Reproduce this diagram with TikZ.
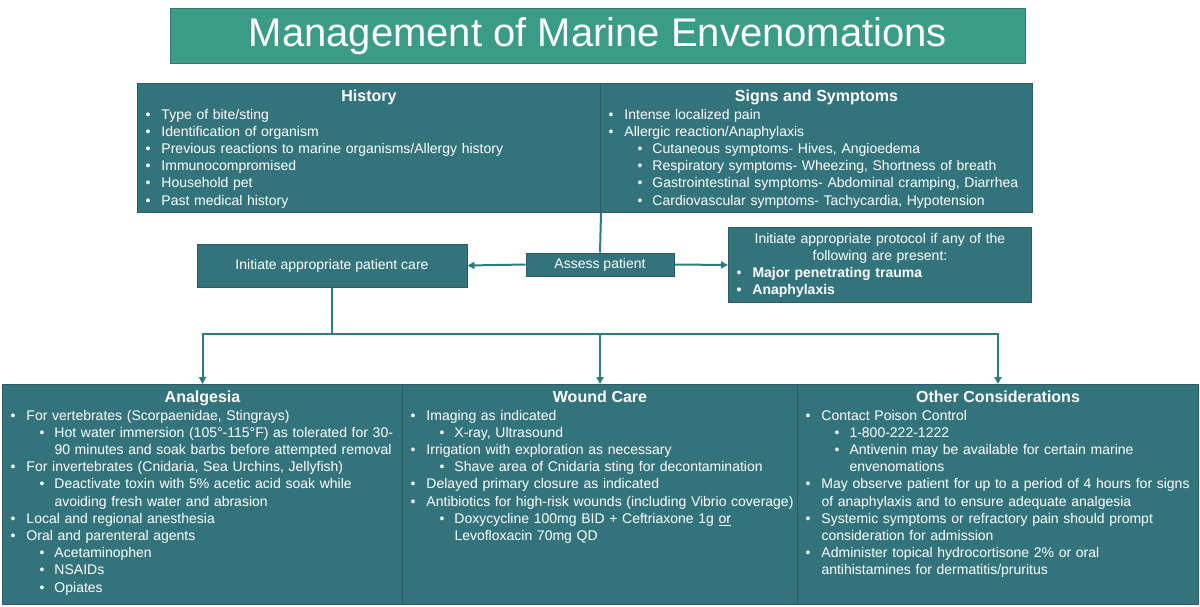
\documentclass[tikz,border=0pt]{standalone}
\usepackage{fontspec}
\setmainfont{Liberation Sans}
\usepackage{tikz}
\usetikzlibrary{arrows.meta,positioning}
\definecolor{titlegreen}{HTML}{3A9B86}
\definecolor{titleedge}{HTML}{2F7E6C}
\definecolor{panelteal}{HTML}{33747C}
\definecolor{paneledge}{HTML}{2A5C62}
\definecolor{linkteal}{HTML}{2F7B81}

\newcommand{\itm}[1]{\par\hangindent=24pt\hangafter=1\noindent\hbox to 24pt{\hspace{8pt}\textbullet\hfil}#1}
\newcommand{\subitm}[1]{\par\hangindent=52pt\hangafter=1\noindent\hbox to 52pt{\hspace{37pt}\textbullet\hfil}#1}
\newcommand{\panelhead}[1]{\par\noindent\makebox[\linewidth]{\fontsize{16pt}{17.2pt}\selectfont\bfseries #1}}

\begin{document}
\begin{tikzpicture}[x=1pt,y=-1pt,
  panel/.style={draw=paneledge, fill=panelteal, line width=1pt, anchor=north west, inner sep=0pt},
  paneltext/.style={anchor=north, inner sep=0pt, yshift=-1.5pt, text=white, align=left, font=\fontsize{14pt}{17.2pt}\selectfont},
  stepbox/.style={draw=paneledge, fill=panelteal, line width=1pt, text=white, inner sep=0pt, font=\fontsize{14pt}{17pt}\selectfont},
  link/.style={draw=linkteal, line width=2pt},
  arrow/.style={link, -{Triangle[length=7pt,width=7pt]}}]
\useasboundingbox (0,0) rectangle (1200,606);

\node[draw=titleedge, fill=titlegreen, line width=1pt, anchor=north west, minimum width=855pt, minimum height=55pt, inner sep=0pt, text=white, font=\fontsize{40pt}{48pt}\selectfont] (title) at (170,8) {\raisebox{-3pt}{Management of Marine Envenomations}};

\node[panel, minimum width=463pt, minimum height=129pt] (hist) at (137,83) {};
\node[paneltext, text width=463pt] (histtext) at (hist.north) {\panelhead{History}
  \itm{Type of bite/sting}
  \itm{Identification of organism}
  \itm{Previous reactions to marine organisms/Allergy history}
  \itm{Immunocompromised}
  \itm{Household pet}
  \itm{Past medical history}\par};

\node[panel, minimum width=432pt, minimum height=129pt] (sign) at (600,83) {};
\node[paneltext, text width=432pt] (signtext) at (sign.north) {\panelhead{Signs and Symptoms}
  \itm{Intense localized pain}
  \itm{Allergic reaction/Anaphylaxis}
  \subitm{Cutaneous symptoms- Hives, Angioedema}
  \subitm{Respiratory symptoms- Wheezing, Shortness of breath}
  \subitm{Gastrointestinal symptoms- Abdominal cramping, Diarrhea}
  \subitm{Cardiovascular symptoms- Tachycardia, Hypotension}\par};

\node[stepbox, minimum width=148pt, minimum height=23pt] (assess) at (600,264.5) {Assess patient};
\node[stepbox, minimum width=270pt, minimum height=43pt] (care) at (332,265.5) {Initiate appropriate patient care};
\node[stepbox, anchor=north west, text width=303pt, minimum height=75pt, align=left] (proto) at (728,227) {{\centering Initiate appropriate protocol if any of the\\ following are present:\par}
  \itm{\bfseries Major penetrating trauma}
  \itm{\bfseries Anaphylaxis}\par};

\node[panel, minimum width=400pt, minimum height=220pt] (analg) at (2,384) {};
\node[paneltext, text width=400pt] (analgtext) at (analg.north) {\panelhead{Analgesia}
  \itm{For vertebrates (Scorpaenidae, Stingrays)}
  \subitm{Hot water immersion (105°-115°F) as tolerated for 30-\newline 90 minutes and soak barbs before attempted removal}
  \itm{For invertebrates (Cnidaria, Sea Urchins, Jellyfish)}
  \subitm{Deactivate toxin with 5\% acetic acid soak while\newline avoiding fresh water and abrasion}
  \itm{Local and regional anesthesia}
  \itm{Oral and parenteral agents}
  \subitm{Acetaminophen}
  \subitm{NSAIDs}
  \subitm{Opiates}\par};

\node[panel, minimum width=395pt, minimum height=220pt] (wound) at (402,384) {};
\node[paneltext, text width=395pt] (woundtext) at (wound.north) {\panelhead{Wound Care}
  \itm{Imaging as indicated}
  \subitm{X-ray, Ultrasound}
  \itm{Irrigation with exploration as necessary}
  \subitm{Shave area of Cnidaria sting for decontamination}
  \itm{Delayed primary closure as indicated}
  \itm{Antibiotics for high-risk wounds (including Vibrio coverage)}
  \subitm{Doxycycline 100mg BID + Ceftriaxone 1g \underline{or}\newline Levofloxacin 70mg QD}\par};

\node[panel, minimum width=401pt, minimum height=220pt] (other) at (797,384) {};
\node[paneltext, text width=401pt] (othertext) at (other.north) {\panelhead{Other Considerations}
  \itm{Contact Poison Control}
  \subitm{1-800-222-1222}
  \subitm{Antivenin may be available for certain marine\newline envenomations}
  \itm{May observe patient for up to a period of 4 hours for signs\newline of anaphylaxis and to ensure adequate analgesia}
  \itm{Systemic symptoms or refractory pain should prompt\newline consideration for admission}
  \itm{Administer topical hydrocortisone 2\% or oral\newline antihistamines for dermatitis/pruritus}\par};

\draw[link] (hist.south east) -- (assess.north);
\draw[arrow] (assess.west) -- (care.east);
\draw[arrow] (assess.east) -- (proto.west);
\draw[link] (care.south) -- ++(0,46) coordinate (fork);
\draw[arrow] (fork) -| (analg.north);
\draw[arrow] (fork) -| (wound.north);
\draw[arrow] (fork) -| (other.north);
\end{tikzpicture}
\end{document}
